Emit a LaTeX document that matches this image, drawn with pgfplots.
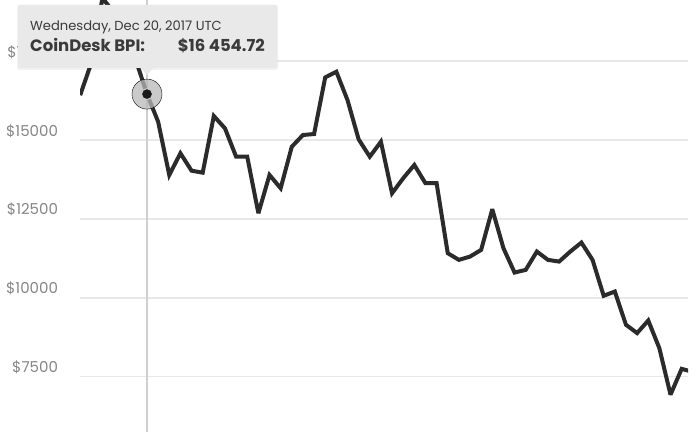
\documentclass[border=0pt]{standalone}
\usepackage{pgfplots}
\pgfplotsset{compat=1.18}
\usepackage{fontspec}
\setmainfont{Poppins}
\definecolor{lineblack}{HTML}{2B2B2B}
\definecolor{gridgray}{HTML}{E8E8E8}
\definecolor{labelgray}{HTML}{858585}
\definecolor{crossgray}{HTML}{CFCFCF}
\definecolor{tipgray}{HTML}{E9E9E9}
\definecolor{tiptext}{HTML}{3A3A3A}
\definecolor{halogray}{HTML}{B8B8B8}
\pgfplotstableread{
idx price
0 16420
1 17440
2 19500
3 19050
4 18950
5 17530
6 16454.72
7 15579
8 13892
9 14579
10 14028
11 13965
12 15760
13 15370
14 14471
15 14471
16 12680
17 13892
18 13471
19 14788
20 15158
21 15190
22 16984
23 17162
24 16266
25 15022
26 14471
27 14946
28 13313
29 13788
30 14209
31 13630
32 13630
33 11414
34 11202
35 11306
36 11519
37 12807
38 11572
39 10800
40 10886
41 11465
42 11202
43 11148
44 11465
45 11750
46 11202
47 10063
48 10199
49 9145
50 8882
51 9281
52 8400
53 6930
54 7750
55 7650
}\bpi
\begin{document}
\begin{tikzpicture}[x=1pt,y=1pt]
\useasboundingbox (0,0) rectangle (700,432);
\begin{axis}[
  at={(80.16pt,0pt)}, anchor=south west,
  scale only axis, width=607.84pt, height=432pt,
  xmin=0, xmax=54.57, ymin=5748, ymax=19436,
  axis line style={draw=none},
  xtick=\empty,
  ytick={7500,10000,12500,15000,17500},
  yticklabels={\$7500,\$10000,\$12500,\$15000,\$17500},
  major tick length=0pt,
  ymajorgrids, grid style={color=gridgray, line width=1.5pt},
  yticklabel style={anchor=base east, inner sep=0pt, xshift=-22pt, yshift=4pt, font=\fontsize{15}{17}\selectfont, text=labelgray},
  clip=true,
]
\addplot[crossgray, line width=1.5pt] coordinates {(6,5748) (6,19436)};
\addplot[lineblack, line width=4pt, line join=miter, miter limit=3] table[x=idx, y=price] {\bpi};
\addplot[only marks, mark=*, mark size=15pt, mark options={fill=halogray, draw=none, fill opacity=0.75}] coordinates {(6,16454.72)};
\addplot[only marks, mark=*, mark size=5.5pt, mark options={fill=black!90, draw=white!80!black, line width=1pt}] coordinates {(6,16454.72)};
\end{axis}
% tooltip
\fill[black, opacity=0.05, rounded corners=2pt] (17,362) rectangle (278,427);
\fill[tipgray, rounded corners=2pt] (18,364) rectangle (277,427);
\fill[tipgray] (140,364.5) -- (154,364.5) -- (147,357) -- cycle;
\node[anchor=base west, inner sep=0pt, text=tiptext, font=\fontsize{13.1}{15}\selectfont] at (30,401) {Wednesday, Dec 20, 2017 UTC};
\node[anchor=base west, inner sep=0pt, text=tiptext, font=\fontsize{16.5}{18}\selectfont\bfseries] at (30,380) {CoinDesk BPI:};
\node[anchor=base east, inner sep=0pt, text=tiptext, font=\fontsize{16.5}{18}\selectfont\bfseries] at (265,380) {\$16 454.72};
\end{tikzpicture}
\end{document}
